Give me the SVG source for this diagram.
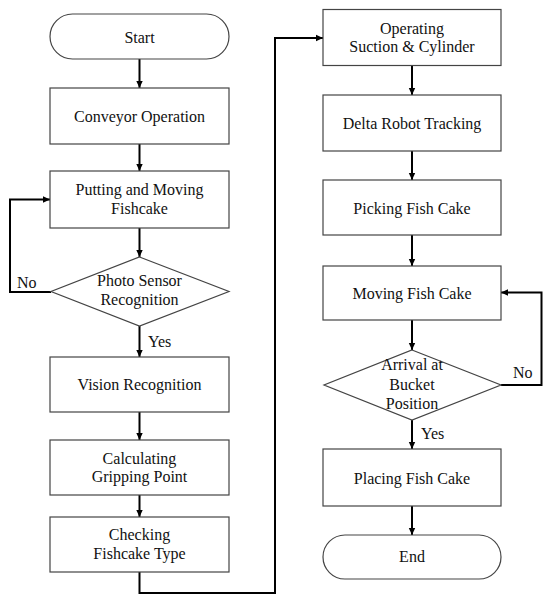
<svg xmlns="http://www.w3.org/2000/svg" width="550" height="602" viewBox="0 0 550 602">
<style>
.box{fill:#fff;stroke:#444;stroke-width:1.2}
.t{font-family:"Liberation Serif","Times New Roman",serif;font-size:16px;fill:#111;text-anchor:middle}
.l{font-family:"Liberation Serif","Times New Roman",serif;font-size:16px;fill:#111}
.c{fill:none;stroke:#000;stroke-width:2}
</style>
<defs>
<marker id="ah" markerWidth="8" markerHeight="8" refX="7" refY="4" orient="auto" markerUnits="userSpaceOnUse">
<path d="M0,0.8 L7,4 L0,7.2 Z" fill="#000"/>
</marker>
</defs>
<rect width="550" height="602" fill="#fff"/>
<g id="connectors">
<line class="c" x1="139.5" y1="59" x2="139.5" y2="88" marker-end="url(#ah)"/>
<line class="c" x1="139.5" y1="144" x2="139.5" y2="171" marker-end="url(#ah)"/>
<line class="c" x1="139.5" y1="228" x2="139.5" y2="257" marker-end="url(#ah)"/>
<polyline class="c" points="51,292 10,292 10,199.5 50,199.5" marker-end="url(#ah)"/>
<line class="c" x1="139.5" y1="326" x2="139.5" y2="357" marker-end="url(#ah)"/>
<line class="c" x1="139.5" y1="412" x2="139.5" y2="440" marker-end="url(#ah)"/>
<line class="c" x1="139.5" y1="495" x2="139.5" y2="517" marker-end="url(#ah)"/>
<polyline class="c" points="139.5,572 139.5,593 275,593 275,38 323,38" marker-end="url(#ah)"/>
<line class="c" x1="412" y1="65" x2="412" y2="95" marker-end="url(#ah)"/>
<line class="c" x1="412" y1="151" x2="412" y2="180" marker-end="url(#ah)"/>
<line class="c" x1="412" y1="235" x2="412" y2="266" marker-end="url(#ah)"/>
<line class="c" x1="412" y1="320" x2="412" y2="350" marker-end="url(#ah)"/>
<polyline class="c" points="501,385 541.5,385 541.5,292.5 501,292.5" marker-end="url(#ah)"/>
<line class="c" x1="412" y1="420" x2="412" y2="449" marker-end="url(#ah)"/>
<line class="c" x1="412" y1="506" x2="412" y2="535" marker-end="url(#ah)"/>
<text class="l" x="17" y="288">No</text>
<text class="l" x="148" y="347">Yes</text>
<text class="l" x="513" y="378">No</text>
<text class="l" x="421" y="439">Yes</text>
</g>
<g id="start"><rect class="box" x="50" y="14" width="179" height="45" rx="22.5"/><text class="t" x="139.5" y="42.5">Start</text></g>
<g id="conveyor"><rect class="box" x="50" y="88" width="179" height="56"/><text class="t" x="139.5" y="121.5">Conveyor Operation</text></g>
<g id="putting"><rect class="box" x="50" y="171" width="179" height="57"/><text class="t" x="139.5" y="195">Putting and Moving</text><text class="t" x="139.5" y="214">Fishcake</text></g>
<g id="photo"><polygon class="box" points="139.5,257 229,291.5 139.5,326 51,291.5"/><text class="t" x="139.5" y="286">Photo Sensor</text><text class="t" x="139.5" y="305">Recognition</text></g>
<g id="vision"><rect class="box" x="50" y="357" width="179" height="55"/><text class="t" x="139.5" y="389.5">Vision Recognition</text></g>
<g id="calc"><rect class="box" x="50" y="440" width="179" height="55"/><text class="t" x="139.5" y="463.5">Calculating</text><text class="t" x="139.5" y="482">Gripping Point</text></g>
<g id="check"><rect class="box" x="50" y="517" width="179" height="55"/><text class="t" x="139.5" y="540">Checking</text><text class="t" x="139.5" y="559">Fishcake Type</text></g>
<g id="operating"><rect class="box" x="323" y="9.5" width="178" height="56"/><text class="t" x="412" y="33.5">Operating</text><text class="t" x="412" y="52">Suction &amp; Cylinder</text></g>
<g id="delta"><rect class="box" x="323" y="95" width="178" height="56"/><text class="t" x="412" y="128.5">Delta  Robot Tracking</text></g>
<g id="picking"><rect class="box" x="323" y="180" width="178" height="55"/><text class="t" x="412" y="213.5">Picking  Fish Cake</text></g>
<g id="moving"><rect class="box" x="323" y="266" width="178" height="54"/><text class="t" x="412" y="298.5">Moving  Fish Cake</text></g>
<g id="arrival"><polygon class="box" points="412,350 501,385 412,420 324,385"/><text class="t" x="412" y="370">Arrival  at</text><text class="t" x="412" y="389.5">Bucket</text><text class="t" x="412" y="409">Position</text></g>
<g id="placing"><rect class="box" x="323" y="449" width="178" height="57"/><text class="t" x="412" y="483.5">Placing  Fish Cake</text></g>
<g id="end"><rect class="box" x="323" y="535" width="178" height="44" rx="22"/><text class="t" x="412" y="562">End</text></g>
</svg>
